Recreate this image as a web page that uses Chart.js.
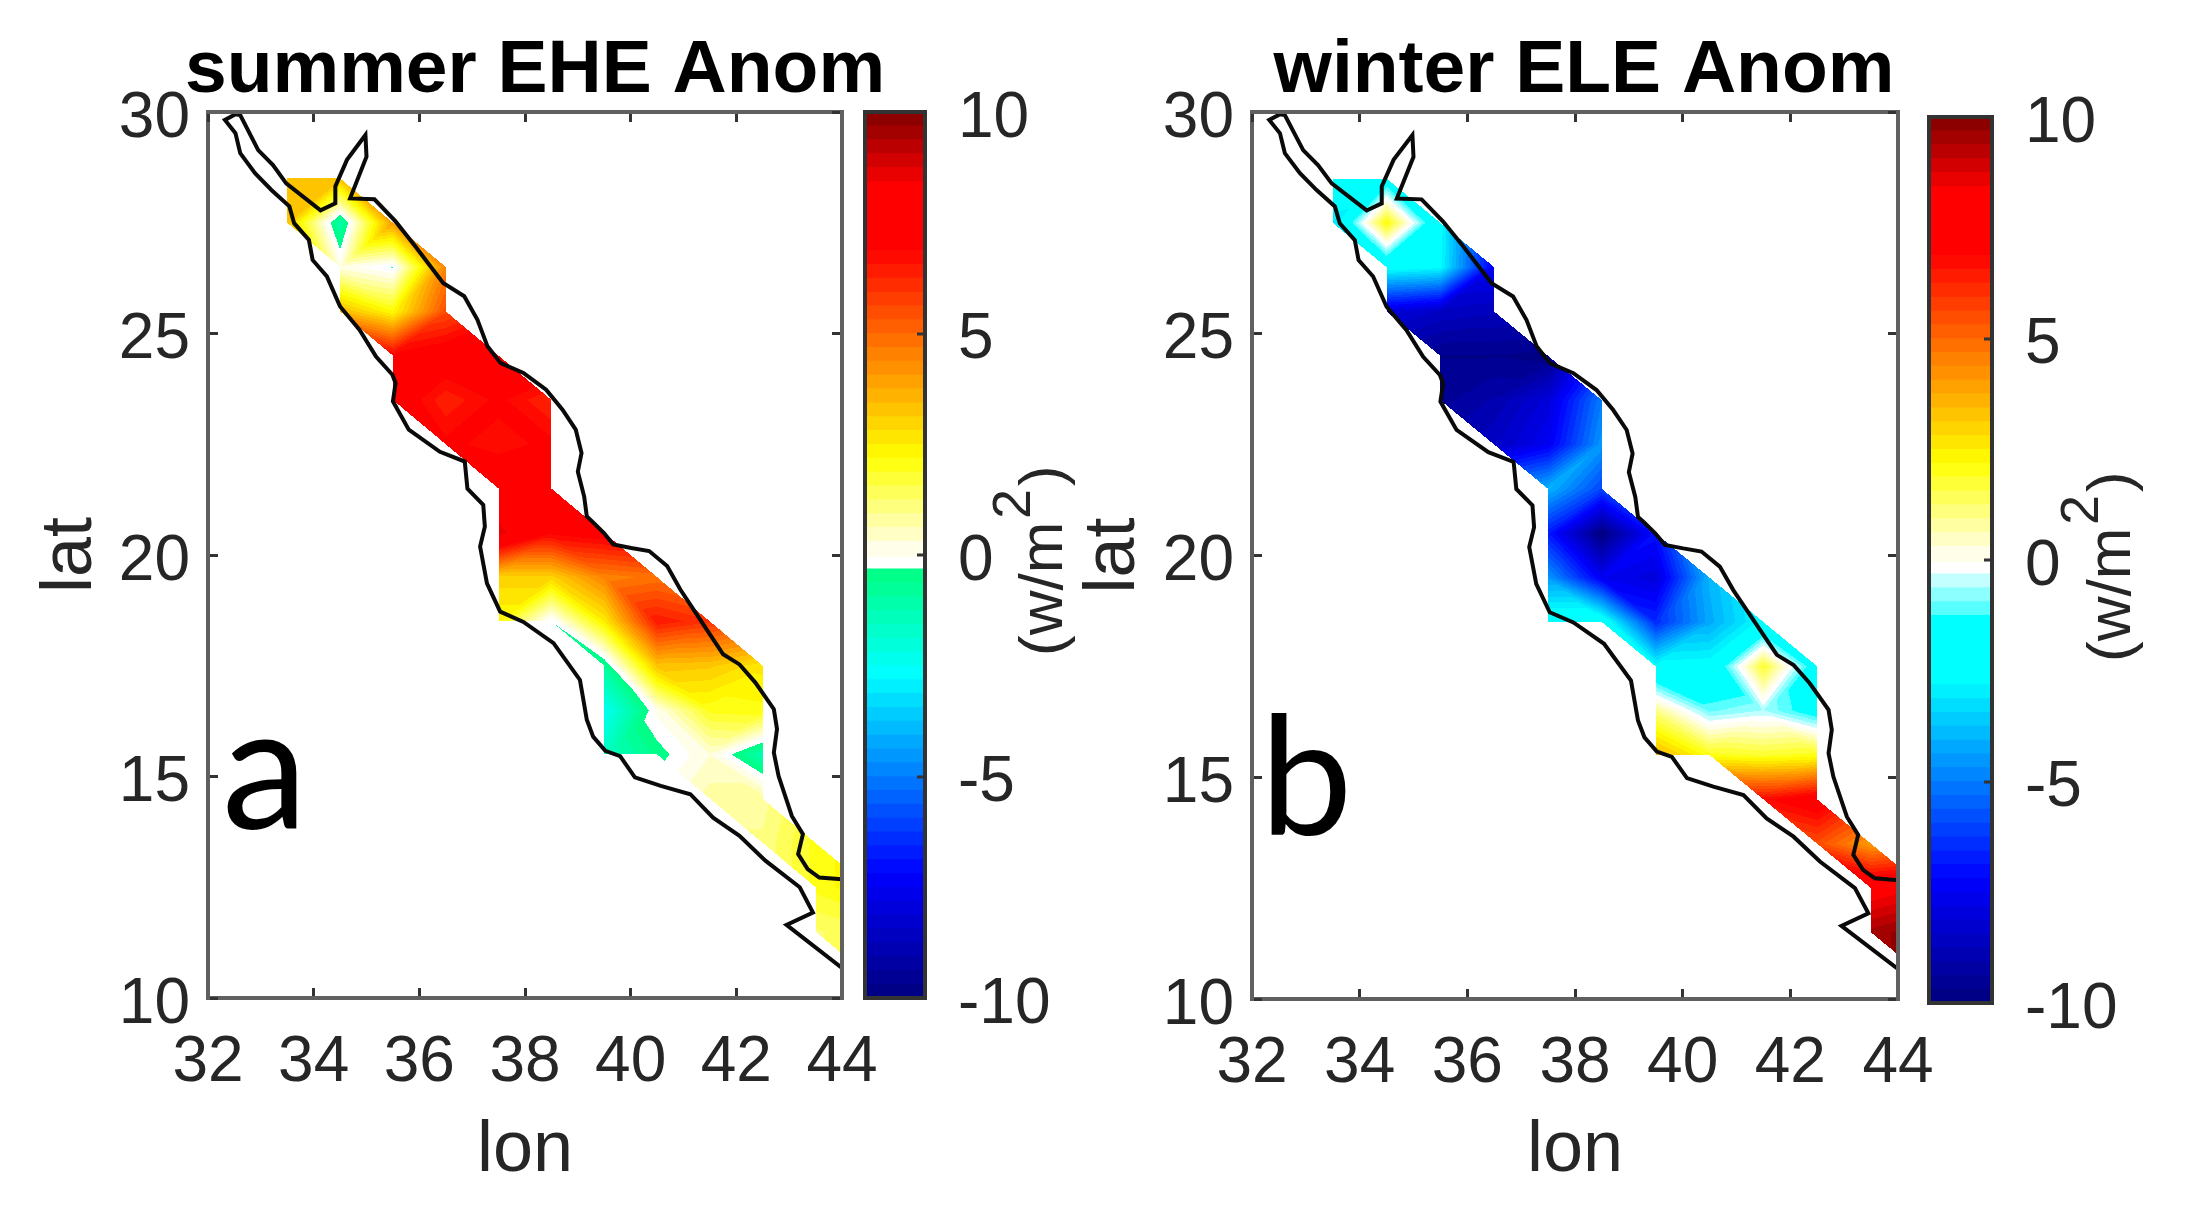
<!DOCTYPE html>
<html>
<head>
<meta charset="utf-8">
<style>
html,body{margin:0;padding:0;background:#fff;width:2190px;height:1215px;overflow:hidden}
canvas{position:absolute;filter:blur(0.7px)}
</style>
<script src="https://cdn.jsdelivr.net/npm/chart.js@4/dist/chart.umd.min.js"></script>
</head>
<body>
<canvas id="cbA" style="left:845px;top:0" width="260" height="1215"></canvas>
<canvas id="cbB" style="left:1909px;top:0" width="281" height="1215"></canvas>
<canvas id="mapA" style="left:0;top:0" width="1070" height="1215"></canvas>
<canvas id="mapB" style="left:1040px;top:0" width="1088" height="1215"></canvas>
<script>
// ---------- data ----------
const gridLons = [33.5,34.5,35.5,36.5,37.5,38.5,39.5,40.5,41.5,42.5,43.5,44.5];
const gridLats = [28.5,27.5,26.5,25.5,24.5,23.5,22.5,21.5,20.5,19.5,18.5,17.5,16.5,15.5,14.5,13.5,12.5,11.5,10.5];
const n = null;
const summerEHE = [
 [3.3,3.3],
 [3.3,-1.1,4],
 [n,0.2,-0.36,4.5],
 [n,3.5,2.2,5.5],
 [n,n,7,7.5,8.5],
 [n,n,7.5,6.3,7,6.2],
 [n,n,n,7,6.7,7],
 [n,n,n,n,7.5,7.5],
 [n,n,n,n,8.7,7,7.3],
 [n,n,n,n,3,3,4.5,4.8],
 [n,n,n,n,2.2,-0.3,2.5,6.5,6],
 [n,n,n,n,n,n,-0.8,3.3,3.2,2.6],
 [n,n,n,n,n,n,-2.5,0.1,2,2.1],
 [n,n,n,n,n,n,-1.6,-0.5,0.3,-1.2],
 [n,n,n,n,n,n,n,n,0.8,0.8],
 [n,n,n,n,n,n,n,n,n,1,2],
 [n,n,n,n,n,n,n,n,n,n,2,2.5],
 [n,n,n,n,n,n,n,n,n,n,1.2,1.5],
 [n,n,n,n,n,n,n,n,n,n,n,1.5]
];
const winterELE = [
 [-1.5,-2],
 [-3.2,2.2,-2.6],
 [n,-2.4,-2.7,-7.5],
 [n,-8,-8.5,-8.7],
 [n,n,-9.7,-9.7,-9.8],
 [n,n,-9.5,-9,-8,-5],
 [n,n,n,-8.5,-7.5,-4.5],
 [n,n,n,n,-4,-6],
 [n,n,n,n,-6.8,-10,-7],
 [n,n,n,n,-4.5,-7.5,-8,-4],
 [n,n,n,n,-2,-2,-6.5,-4.2,-2.6],
 [n,n,n,n,n,n,-2.6,-2.5,1.8,-2],
 [n,n,n,n,n,n,1,-1,-0.6,-1.8],
 [n,n,n,n,n,n,3.6,2,1.8,2],
 [n,n,n,n,n,n,n,n,6.8,7.5],
 [n,n,n,n,n,n,n,n,n,5.5,4],
 [n,n,n,n,n,n,n,n,n,n,8,8.5],
 [n,n,n,n,n,n,n,n,n,n,9.5,10],
 [n,n,n,n,n,n,n,n,n,n,n,10]
];
const summerSwappedCells = ['1,1'];   // cell (column,row) whose diagonal runs the other way
const winterSwappedCells = [];
const coastLon = [32.52,32.32,32.52,32.61,32.89,33.20,33.54,33.63,33.91,33.98,34.25,34.50,34.87,35.18,35.49,35.55,35.50,35.80,36.39,36.86,36.91,37.21,37.24,37.15,37.28,37.53,37.97,38.54,39.04,39.17,39.29,39.52,39.80,40.08,40.57,41.13,41.56,42.06,42.55,43.20,43.45,42.95,44.3,44.3,43.57,43.35,43.17,43.26,43.05,42.80,42.71,42.77,42.71,42.36,42.06,41.75,41.50,41.25,40.94,40.69,40.35,40.01,39.67,39.49,39.27,39.17,39.12,39.00,39.07,38.96,38.71,38.40,37.97,37.54,37.29,37.10,36.85,36.45,35.93,35.55,35.15,34.69,35.00,34.98,34.63,34.41,34.41,34.13,33.48,33.23,32.95,32.61,32.52];
const coastLat = [29.95,29.82,29.52,29.07,28.62,28.24,27.87,27.49,27.11,26.66,26.29,25.61,25.08,24.48,24.07,23.88,23.47,22.83,22.33,22.11,21.50,21.13,20.64,20.19,19.36,18.72,18.49,18.01,17.18,16.28,15.90,15.58,15.46,14.98,14.79,14.60,14.07,13.66,13.10,12.50,11.93,11.65,10.4,12.65,12.72,12.91,13.25,13.70,14.11,15.01,15.54,16.07,16.52,17.12,17.53,17.76,18.21,18.66,19.22,19.75,20.09,20.16,20.24,20.50,20.76,20.87,21.32,21.88,22.30,22.83,23.28,23.73,24.11,24.33,24.71,25.31,25.84,26.14,26.96,27.53,28.03,28.05,28.99,29.48,28.92,28.32,27.94,27.78,28.39,28.80,29.14,29.93,29.95];
const lonTicksRange = [32,44];
const latTicksRange = [10,30];
const cbRange = [-10,10];
const cbLevels = 64;
// colour map anchors (value, colour)
const stopsA = [[-10,[0,0,128]],[-7.2,[0,0,255]],[-2.7,[0,255,255]],[-0.3125,[0,255,128]],[-0.31249,[255,255,255]],[0,[255,255,255]],[0.05,[255,255,245]],[2.2,[255,255,0]],[6.9,[255,0,0]],[8.3,[255,0,0]],[10,[128,0,0]]];
const stopsB = [[-10,[0,0,128]],[-7.2,[0,0,255]],[-2.7,[0,255,255]],[-1.25,[0,255,255]],[-1.09,[90,255,255]],[-0.78,[140,255,255]],[-0.47,[195,255,255]],[-0.3125,[255,255,255]],[0,[255,255,255]],[0.05,[255,255,245]],[2.2,[255,255,0]],[6.9,[255,0,0]],[8.3,[255,0,0]],[10,[128,0,0]]];

// ---------- helpers ----------
const INK = '#262626', FONT = '"Liberation Sans", Arial, sans-serif';
function colorAt(stops, v){
  if (v <= stops[0][0]) return stops[0][1];
  for (let i = 1; i < stops.length; i++) if (v <= stops[i][0]) {
    const [a,ca] = stops[i-1], [b,cb] = stops[i], t = (v-a)/(b-a);
    return ca.map((c,k)=>Math.round(c+(cb[k]-c)*t));
  }
  return stops[stops.length-1][1];
}
function levelColors(stops){
  const out = [], d = (cbRange[1]-cbRange[0])/cbLevels;
  for (let i = 0; i < cbLevels; i++) out.push(colorAt(stops, cbRange[0]+d*(i+0.5)));
  return out;
}
function rowsToPoints(rows){
  const pts = [];
  rows.forEach((r,j)=>r.forEach((v,i)=>{ if (v!==null) pts.push({x:gridLons[i],y:gridLats[j],v}); }));
  return pts;
}
function node(rows,i,j){
  const r = rows[j]; if (!r) return null;
  const v = r[i]; return v===undefined ? null : v;
}
function fieldPlugin(rows, stops, swapped){
  const colors = levelColors(stops);
  const x0 = gridLons[0], yTop = gridLats[0];
  return { id:'field', beforeDatasetsDraw(chart){
    const {ctx, chartArea:a, scales:{x,y}} = chart;
    const L = Math.round(a.left), T = Math.round(a.top), W = Math.round(a.right)-L, H = Math.round(a.bottom)-T;
    const off = document.createElement('canvas'); off.width = W; off.height = H;
    const oc = off.getContext('2d'), img = oc.createImageData(W,H), d = img.data;
    for (let py = 0; py < H; py++){
      const lat = y.getValueForPixel(T+py+0.5);
      const jf = yTop-lat, j = Math.floor(jf), w = jf-j;            // w: 0 at upper row, 1 at lower row
      for (let px = 0; px < W; px++){
        const lon = x.getValueForPixel(L+px+0.5);
        const uf = lon-x0, i = Math.floor(uf), u = uf-i;
        const q = [node(rows,i,j),node(rows,i+1,j),node(rows,i,j+1),node(rows,i+1,j+1)];
        const miss = q.filter(c=>c===null).length;
        let val = null;
        if (miss===0){
          // each cell is split along the diagonal whose two corners differ least
          let main = Math.abs(q[0]-q[3]) <= Math.abs(q[1]-q[2]);
          if (swapped.includes(i+','+j)) main = !main;
          if (main){
            if (u>=w) val = q[1]+(1-u)*(q[0]-q[1])+w*(q[3]-q[1]);
            else      val = q[2]+u*(q[3]-q[2])+(1-w)*(q[0]-q[2]);
          } else {
            if (u+w<=1) val = q[0]+u*(q[1]-q[0])+w*(q[2]-q[0]);
            else        val = q[3]+(1-u)*(q[2]-q[3])+(1-w)*(q[1]-q[3]);
          }
        } else if (miss===1){
          const m = q.indexOf(null), mx = m%2, my = m>>1;
          const uu = mx?1-u:u, ww = my?1-w:w;
          if (uu+ww>=1){
            const B = q[(1-mx)+2*my], C = q[mx+2*(1-my)], D = q[(1-mx)+2*(1-my)];
            val = B*(1-ww)+C*(1-uu)+D*(uu+ww-1);
          }
        }
        if (val===null) continue;
        const lv = Math.max(0,Math.min(cbLevels-1,Math.floor((val-cbRange[0])/(cbRange[1]-cbRange[0])*cbLevels)));
        const c = colors[lv], o = (py*W+px)*4;
        d[o]=c[0];d[o+1]=c[1];d[o+2]=c[2];d[o+3]=255;
      }
    }
    oc.putImageData(img,0,0);
    ctx.drawImage(off,L,T);
  }};
}
function textPlugin(items){
  return { id:'marks', afterDraw(chart){
    const c = chart.ctx;
    items.forEach(t=>{
      c.save(); c.translate(t.x,t.y); if (t.rot) c.rotate(t.rot);
      c.font = t.font; c.fillStyle = t.color||INK; c.textAlign='left'; c.textBaseline='alphabetic';
      c.fillText(t.text,0,0); c.restore();
    });
  }};
}
const axisCommon = {
  border:{display:true,color:'#606060',width:4,z:2},
};
function tickGrid(len){ return {drawOnChartArea:false,drawTicks:true,tickLength:-len,tickWidth:3,tickColor:'#333',lineWidth:3,z:2}; }
function fitW(w){ return s=>{s.width=w;}; }
function fitH(h){ return s=>{s.height=h;}; }

function makeMap(id, title, rows, stops, swapped, box, canvasLeft, canvasW, latPad, letter){
  const marginL = box.L-canvasLeft, padR = canvasW-marginL-(box.R-box.L), marginB = 1215-box.B;
  const tickFont = {family:FONT,size:64};
  return new Chart(document.getElementById(id),{
    type:'scatter',
    data:{datasets:[
      {label:title,data:rowsToPoints(rows),pointRadius:0,showLine:false,order:2},
      {label:'coast',data:coastLon.map((v,i)=>({x:v,y:coastLat[i]})),showLine:true,pointRadius:0,borderColor:'#0a0a0a',borderWidth:4,tension:0,order:1}
    ]},
    options:{
      responsive:false,animation:false,
      layout:{padding:0},
      plugins:{legend:{display:false},tooltip:{enabled:false},
        title:{display:true,text:title,color:'#000',font:{family:FONT,size:75,weight:'bold',lineHeight:1},padding:{top:box.T-78,bottom:3}}},
      scales:{
        x:{type:'linear',position:'bottom',min:lonTicksRange[0],max:lonTicksRange[1],...axisCommon,grid:tickGrid(10),
           ticks:{stepSize:2,font:tickFont,color:INK,padding:37,maxRotation:0,autoSkip:false},
           title:{display:true,text:'lon',color:INK,font:{family:FONT,size:72,lineHeight:1.2},padding:{top:0,bottom:21}},afterFit:fitH(marginB)},
        y:{type:'linear',position:'left',min:latTicksRange[0],max:latTicksRange[1],...axisCommon,grid:tickGrid(10),
           ticks:{stepSize:5,font:tickFont,color:INK,padding:28,labelOffset:7,autoSkip:false},
           title:{display:true,text:'lat',color:INK,font:{family:FONT,size:72,lineHeight:1.2},padding:{top:latPad,bottom:0}},afterFit:fitW(marginL)},
        x2:{type:'linear',position:'top',min:lonTicksRange[0],max:lonTicksRange[1],...axisCommon,grid:tickGrid(10),ticks:{display:false,stepSize:2},afterFit:fitH(0)},
        y2:{type:'linear',position:'right',min:latTicksRange[0],max:latTicksRange[1],...axisCommon,grid:tickGrid(10),ticks:{display:false,stepSize:5},afterFit:fitW(padR)}
      }
    },
    plugins:[fieldPlugin(rows,stops,swapped),textPlugin([{text:letter.text,x:letter.x-canvasLeft,y:letter.y,font:letter.size+'px Lato',color:'#000'}])]
  });
}
function makeBar(id, stops, box, canvasLeft, canvasW, unit){
  const colors = levelColors(stops), d = (cbRange[1]-cbRange[0])/cbLevels;
  const datasets = colors.map((c,i)=>({label:'level '+i,data:[[cbRange[0],cbRange[0]+d*(i+1)]],backgroundColor:`rgb(${c.join(',')})`,borderWidth:0,barPercentage:1,categoryPercentage:1,grouped:false}));
  const cbAxis = {border:{display:true,color:'#333',width:4,z:2}};
  const noTick = {drawOnChartArea:false,drawTicks:false,lineWidth:4,z:2};
  return new Chart(document.getElementById(id),{
    type:'bar',
    data:{labels:['(w/m2)'],datasets},
    options:{
      responsive:false,animation:false,
      layout:{padding:{left:box.L-canvasLeft,top:box.T,right:0,bottom:1215-box.B}},
      plugins:{legend:{display:false},tooltip:{enabled:false}},
      scales:{
        x:{type:'category',position:'bottom',...cbAxis,grid:noTick,ticks:{display:false},afterFit:fitH(0)},
        x2:{type:'category',position:'top',labels:['(w/m2)'],...cbAxis,grid:noTick,ticks:{display:false},afterFit:fitH(0)},
        y:{type:'linear',position:'right',min:cbRange[0],max:cbRange[1],...cbAxis,
           grid:{drawOnChartArea:false,drawTicks:true,tickLength:-8,tickWidth:3,tickColor:'#333',lineWidth:4,z:2},
           ticks:{stepSize:5,font:{family:FONT,size:64},color:INK,padding:41,labelOffset:7,autoSkip:false},afterFit:fitW(canvasW-(box.R-canvasLeft))},
        y2:{type:'linear',position:'left',min:cbRange[0],max:cbRange[1],...cbAxis,grid:noTick,ticks:{display:false},afterFit:fitW(0)}
      }
    },
    plugins:[textPlugin([
      {text:'(w/m',x:unit.x-canvasLeft,y:unit.y,rot:-Math.PI/2,font:`62px ${FONT}`},
      {text:'2',x:unit.x-canvasLeft-32,y:unit.y-137,rot:-Math.PI/2,font:`54px ${FONT}`},
      {text:')',x:unit.x-canvasLeft,y:unit.y-170,rot:-Math.PI/2,font:`62px ${FONT}`}
    ])]
  });
}
makeBar('cbA',stopsA,{L:865,R:925,T:112,B:998},845,260,{x:1062,y:656});
makeBar('cbB',stopsB,{L:1929,R:1992,T:117,B:1003},1909,281,{x:2130,y:662});
makeMap('mapA','summer EHE Anom',summerEHE,stopsA,summerSwappedCells,{L:208,R:842,T:112,B:998},0,1070,28,{text:'a',x:222,y:829,size:172});
makeMap('mapB','winter ELE Anom',winterELE,stopsB,winterSwappedCells,{L:1252,R:1898,T:112,B:999},1040,1088,31,{text:'b',x:1260,y:835,size:165});
</script>
</body>
</html>
